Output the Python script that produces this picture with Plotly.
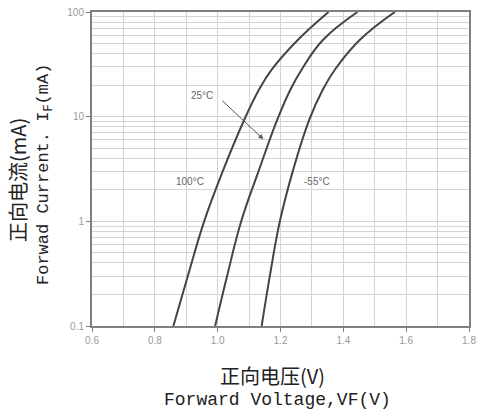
import plotly.graph_objects as go

# Forward current (mA) and forward voltage (V)
i_100 = [0.1, 0.3, 1, 3, 9.4, 18, 28.4, 54, 100]
v_100 = [0.859, 0.905, 0.957, 1.016, 1.085, 1.131, 1.173, 1.255, 1.353]

i_25 = [0.1, 0.3, 1, 3, 9.4, 18, 28.4, 54, 100]
v_25 = [0.992, 1.030, 1.075, 1.130, 1.190, 1.231, 1.268, 1.335, 1.445]

i_m55 = [0.1, 0.3, 1, 3, 9.4, 18, 28.4, 54, 100]
v_m55 = [1.140, 1.166, 1.198, 1.239, 1.292, 1.334, 1.374, 1.452, 1.564]

x_ticks = [0.6, 0.8, 1.0, 1.2, 1.4, 1.6, 1.8]
x_tick_labels = ["0.6", "0.8", "1.0", "1.2", "1.4", "1.6", "1.8"]
y_ticks = [0.1, 1, 10, 100]
y_tick_labels = ["0.1", "1", "10", "100"]

line_color = "#454545"
fig = go.Figure()
for v, i, name in [(v_100, i_100, "100°C"), (v_25, i_25, "25°C"), (v_m55, i_m55, "-55°C")]:
    fig.add_trace(go.Scatter(x=v, y=i, mode="lines", name=name,
                             line=dict(color=line_color, width=2, shape="spline", smoothing=1.2),
                             showlegend=False, hoverinfo="skip"))

grid_c = "#d4d4d4"
axis_c = "#808080"
fig.update_xaxes(range=[0.6, 1.8], tickvals=x_ticks, ticktext=x_tick_labels, automargin=False,
                 showgrid=True, gridcolor=grid_c, gridwidth=1,
                 minor=dict(dtick=0.1, showgrid=True, gridcolor=grid_c, gridwidth=1),
                 showline=True, linecolor=axis_c, linewidth=2, mirror=True,
                 ticks="outside", ticklen=4, tickcolor=axis_c,
                 tickfont=dict(family="Arial, Liberation Sans", size=10, color="#999999"),
                 zeroline=False)
fig.update_yaxes(type="log", range=[-1, 2], tickvals=y_ticks, ticktext=y_tick_labels, automargin=False,
                 showgrid=True, gridcolor=grid_c, gridwidth=1,
                 minor=dict(showgrid=True, gridcolor=grid_c, gridwidth=1,
                            tickvals=[b * m for b in [0.1, 1, 10] for m in range(2, 10)]),
                 showline=True, linecolor=axis_c, linewidth=2, mirror=True,
                 ticks="outside", ticklen=4, tickcolor=axis_c,
                 tickfont=dict(family="Arial, Liberation Sans", size=10, color="#999999"),
                 zeroline=False)

ann_font = dict(family="Arial, Liberation Sans", size=10, color="#666666")
fig.add_annotation(x=0.950, y=1.198, xref="x", yref="y", text="25°C", showarrow=False, font=ann_font)
fig.add_annotation(x=0.912, y=0.376, xref="x", yref="y", text="100°C", showarrow=False, font=ann_font)
fig.add_annotation(x=1.317, y=0.376, xref="x", yref="y", text="-55°C", showarrow=False, font=ann_font)
fig.add_annotation(x=1.1455, y=0.784, xref="x", yref="y", ax=1.010, ay=1.166, axref="x", ayref="y",
                   text="", showarrow=True, arrowhead=2, arrowsize=1, arrowwidth=1, arrowcolor="#555555")

# axis titles (positions given in pixels, converted below)
fig.add_annotation(x=272, y=375, xref="paper", yref="paper", text="正向电压(V)", showarrow=False,
                   font=dict(family="Noto Sans CJK SC", size=20, color="#222222"))
fig.add_annotation(x=277, y=400, xref="paper", yref="paper", text="Forward Voltage,VF(V)", showarrow=False,
                   font=dict(family="Liberation Mono", size=18, color="#222222"))
fig.add_annotation(x=17, y=180, xref="paper", yref="paper", text="正向电流(mA)", showarrow=False, textangle=-90,
                   font=dict(family="Noto Sans CJK SC", size=20, color="#222222"))
fig.add_annotation(x=45, y=175, xref="paper", yref="paper", text="Forwad Current. I<sub>F</sub>(mA)",
                   showarrow=False, textangle=-90,
                   font=dict(family="Liberation Mono", size=17, color="#222222"))

W, H = 478, 419
L, R, T, B = 92, 9, 12, 93
for a in fig.layout.annotations:
    if a.xref == "paper":
        px, py = a.x, a.y
        a.x = (px - L) / (W - L - R)
        a.y = 1 - (py - T) / (H - T - B)
        a.xanchor = "center"
        a.yanchor = "middle"

fig.update_layout(width=W, height=H, margin=dict(l=L, r=R, t=T, b=B, autoexpand=False),
                  paper_bgcolor="white", plot_bgcolor="white", hovermode=False)
fig.write_html("out.html", config={"displayModeBar": False, "staticPlot": True},
               post_script="document.body.style.margin='0';document.body.style.overflow='hidden';")
